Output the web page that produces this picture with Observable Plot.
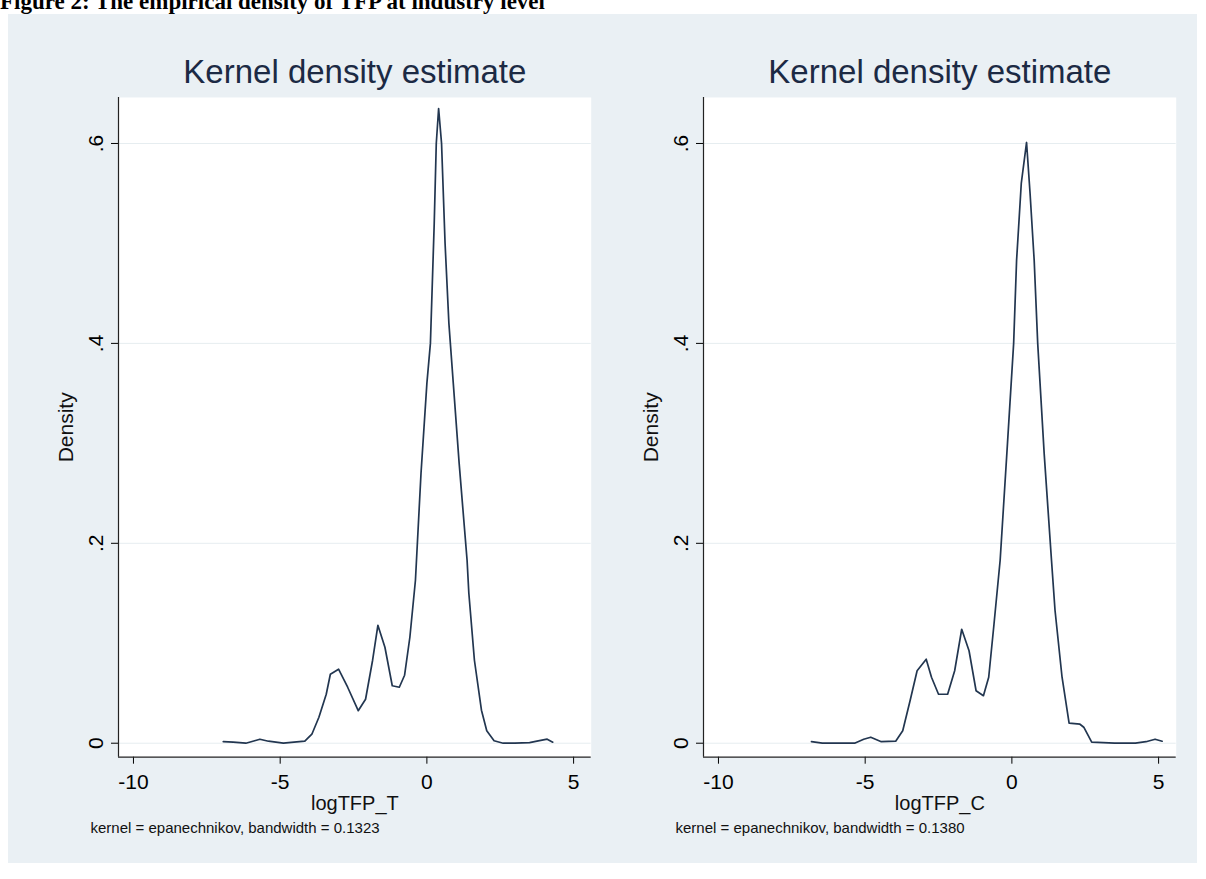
<!DOCTYPE html>
<html><head><meta charset="utf-8">
<script src="https://cdn.jsdelivr.net/npm/d3@7"></script>
<script src="https://cdn.jsdelivr.net/npm/@observablehq/plot@0.6"></script>
<style>
body{margin:0;background:#fff;}
#root{position:relative;width:1206px;height:879px;overflow:hidden;background:#fff;}
#bg{position:absolute;left:8px;top:14px;width:1189px;height:849px;background:#eaf0f4;}
#fig{position:absolute;left:0;top:-10px;line-height:1;font-family:"Liberation Serif","Times New Roman",serif;font-weight:bold;font-size:23px;white-space:nowrap;color:#000;}
.panel{position:absolute;top:0;}
</style>
</head><body>
<div id="root">
  <div id="bg"></div>
  <div id="fig">Figure 2: The empirical density of TFP at industry level</div>
  <div id="left" class="panel" style="left:0px"></div>
  <div id="right" class="panel" style="left:585.2px"></div>
</div>
<script>
// ---- data ----
const panelTitle = "Kernel density estimate";
const yLabel = "Density";
const xTicks = [-10, -5, 0, 5];
const xTickLabels = ["-10", "-5", "0", "5"];
const yTicks = [0, 0.2, 0.4, 0.6];
const yTickLabels = ["0", ".2", ".4", ".6"];
const xDomain = [-10.51, 5.6];
const yDomain = [-0.014, 0.646];

const leftLabel = "logTFP_T";
const leftCaption = "kernel = epanechnikov, bandwidth = 0.1323";
const leftX = [-6.94,-6.6,-6.17,-5.87,-5.69,-5.4,-4.89,-4.53,-4.16,-3.92,-3.68,-3.43,-3.29,-3.01,-2.70,-2.34,-2.09,-1.85,-1.67,-1.43,-1.18,-0.94,-0.76,-0.58,-0.39,-0.2,0.0,0.12,0.25,0.32,0.40,0.50,0.62,0.75,0.90,1.10,1.37,1.43,1.62,1.86,2.04,2.29,2.6,3.0,3.5,3.75,4.1,4.29];
const leftY = [0.0015,0.001,0.0,0.0025,0.004,0.002,0.0,0.001,0.002,0.009,0.026,0.049,0.069,0.074,0.056,0.0325,0.044,0.083,0.118,0.096,0.0575,0.056,0.068,0.106,0.163,0.27,0.36,0.40,0.52,0.60,0.635,0.60,0.50,0.42,0.36,0.28,0.183,0.15,0.083,0.033,0.0125,0.0025,0.0,0.0,0.0005,0.002,0.004,0.001];

const rightLabel = "logTFP_C";
const rightCaption = "kernel = epanechnikov, bandwidth = 0.1380";
const rightX = [-6.83,-6.46,-5.36,-5.05,-4.81,-4.45,-3.96,-3.72,-3.47,-3.23,-2.92,-2.74,-2.50,-2.19,-1.95,-1.71,-1.46,-1.22,-0.97,-0.79,-0.61,-0.40,-0.15,0.06,0.16,0.32,0.50,0.62,0.76,0.88,1.10,1.35,1.47,1.71,1.95,2.32,2.45,2.72,3.5,4.21,4.57,4.88,5.12];
const rightY = [0.0015,0.0,0.0,0.004,0.006,0.0015,0.002,0.0125,0.0425,0.0725,0.084,0.066,0.049,0.049,0.0725,0.114,0.0925,0.0525,0.0475,0.066,0.119,0.183,0.30,0.40,0.483,0.56,0.601,0.55,0.483,0.40,0.29,0.183,0.133,0.066,0.02,0.019,0.016,0.001,0.0,0.0,0.0015,0.004,0.002];

const lineColor = "#223650";
const titleColor = "#1c2a44";

function panel(xs, ys, xlabel, caption) {
  const data = xs.map((x, i) => ({x, y: ys[i]}));
  return Plot.plot({
    width: 600, height: 879,
    marginLeft: 118, marginRight: 9.3, marginTop: 97, marginBottom: 122.3,
    style: {background: "transparent", fontFamily: "'Liberation Sans', Arial, sans-serif", color: "#000", overflow: "visible"},
    x: {domain: xDomain},
    y: {domain: yDomain},
    marks: [
      Plot.frame({fill: "white", stroke: null}),
      Plot.ruleY(yTicks, {stroke: "#e6edf0", strokeWidth: 1}),
      Plot.axisX({ticks: xTicks, tickSize: 7, tickPadding: 10, fontSize: 21, label: null,
        tickFormat: d => xTickLabels[xTicks.indexOf(d)]}),
      Plot.axisY({ticks: yTicks, tickSize: 7, tickPadding: 9, tickRotate: -90, fontSize: 21, label: null,
        tickFormat: d => yTickLabels[yTicks.indexOf(d)]}),
      Plot.ruleX([xDomain[0]], {stroke: "#222", strokeWidth: 1.2}),
      Plot.ruleY([yDomain[0]], {stroke: "#222", strokeWidth: 1.2}),
      Plot.line(data, {x: "x", y: "y", stroke: lineColor, strokeWidth: 1.7}),
      Plot.text([panelTitle], {frameAnchor: "top", dy: -15, lineAnchor: "bottom", fontSize: 33, fill: titleColor}),
      Plot.text([yLabel], {frameAnchor: "left", dx: -46, rotate: -90, lineAnchor: "bottom", textAnchor: "middle", fontSize: 21, fill: "#111"}),
      Plot.text([xlabel], {frameAnchor: "bottom", dy: 53, lineAnchor: "bottom", fontSize: 20, fill: "#111"}),
      Plot.text([caption], {frameAnchor: "bottom-left", dx: -28, dy: 76, lineAnchor: "bottom", textAnchor: "start", fontSize: 15, fill: "#111"})
    ]
  });
}

document.getElementById("left").appendChild(panel(leftX, leftY, leftLabel, leftCaption));
document.getElementById("right").appendChild(panel(rightX, rightY, rightLabel, rightCaption));
</script>
</body></html>
